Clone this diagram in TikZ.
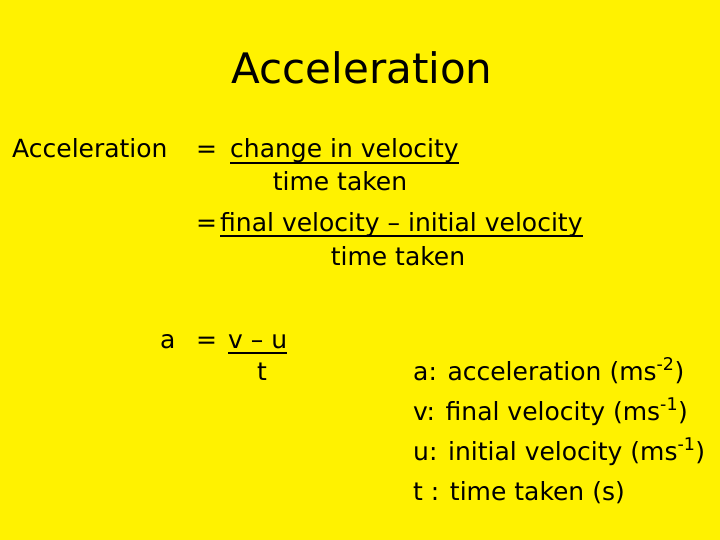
\documentclass[tikz,border=0pt]{standalone}
\usepackage{fontspec}
\setmainfont{DejaVu Sans}
\begin{document}
\begin{tikzpicture}[x=1pt,y=-1pt,
  txt/.style={inner sep=0pt,font=\fontsize{25}{29}\selectfont},
  ul/.style={line width=1.5pt}]
\fill[yellow] (0,0) rectangle (720,540);
\useasboundingbox (0,0) rectangle (720,540);
\node[txt,font=\fontsize{42}{46}\selectfont] (title) at (362,68) {Acceleration};
\node[txt,anchor=base west] (acc) at (12,158) {Acceleration};
\node[txt,anchor=base west] (eq1) at (196,158) {=};
\node[txt,anchor=base west] (civ) at (230,158) {change in velocity};
\draw[ul] ([yshift=-5pt]civ.base west) -- ([yshift=-5pt]civ.base east);
\node[txt,anchor=base] (tt1) at (340,191) {time taken};
\node[txt,anchor=base west] (eq2) at (196,231) {=};
\node[txt,anchor=base west] (fiv) at (220,231) {final velocity – initial velocity};
\draw[ul] ([yshift=-5pt]fiv.base west) -- ([yshift=-5pt]fiv.base east);
\node[txt,anchor=base] (tt2) at (398,265) {time taken};
\node[txt,anchor=base west] (a) at (160,348) {a};
\node[txt,anchor=base west] (eq3) at (196,348) {=};
\node[txt,anchor=base west] (vu) at (228,348) {v – u};
\draw[ul] ([yshift=-5pt]vu.base west) -- ([yshift=-5pt]vu.base east);
\node[txt,anchor=base] (t) at (262,380) {t};
\node[txt,anchor=base west] (l1) at (413,380) {a: acceleration (ms\textsuperscript{-2})};
\node[txt,anchor=base west] (l2) at (413,420) {v: final velocity (ms\textsuperscript{-1})};
\node[txt,anchor=base west] (l3) at (413,460) {u: initial velocity (ms\textsuperscript{-1})};
\node[txt,anchor=base west] (l4) at (413,500) {t : time taken (s)};
\end{tikzpicture}
\end{document}
